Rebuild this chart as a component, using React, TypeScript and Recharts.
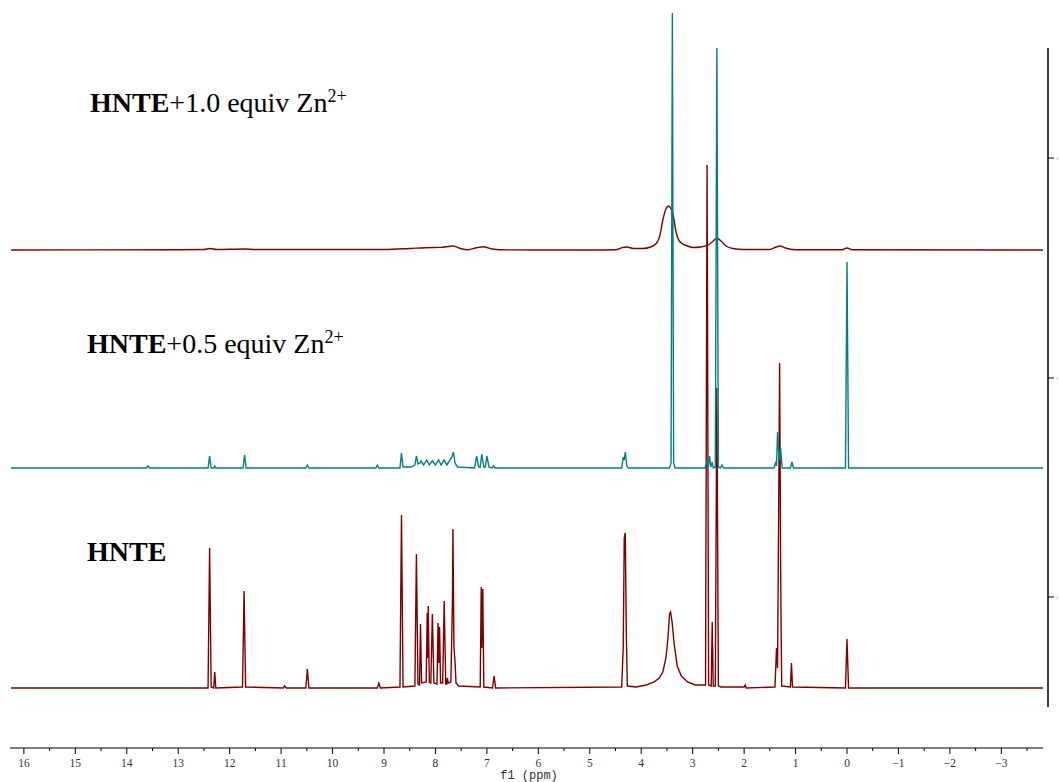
import React from 'react';
import { LineChart, Line, XAxis, YAxis, ReferenceLine } from 'recharts';

type Pt = [number, number];

// f1 axis (ppm), minor ticks every 0.5
const ppmTicks = [
  16, 15.5, 15, 14.5, 14, 13.5, 13, 12.5, 12, 11.5, 11, 10.5, 10, 9.5, 9, 8.5, 8, 7.5, 7, 6.5,
  6, 5.5, 5, 4.5, 4, 3.5, 3, 2.5, 2, 1.5, 1, 0.5, 0, -0.5, -1, -1.5, -2, -2.5, -3, -3.5,
];
const ppmDomain: [number, number] = [-3.907, 16.27];

// intensity axis (almost hidden at the right edge)
const yTicks = [151, 370, 590];
const yTickLabels = ['1', '2', '3'];

// stacked baselines
const hnteBase = 60;
const halfBase = 280;
const fullBase = 498;

// HNTE (bottom) : [ppm, intensity]
const hnte: Pt[] = [
  [16.25, 0], [12.42, 0], [12.39, 140], [12.36, 1], [12.31, 0], [12.29, 16], [12.27, 0],
  [11.75, 1], [11.72, 97], [11.69, 1], [10.96, 0], [10.93, 2], [10.9, 0],
  [10.52, 0], [10.49, 19], [10.46, 0], [9.13, 0], [9.1, 5], [9.07, 0],
  [8.69, 1], [8.66, 173], [8.63, 1], [8.4, 2], [8.37, 134], [8.34, 4],
  [8.31, 3], [8.29, 64], [8.27, 5], [8.18, 6], [8.16, 75], [8.15, 30], [8.14, 82], [8.12, 6],
  [8.09, 5], [8.06, 74], [8.03, 5], [7.97, 4], [7.95, 65], [7.935, 25], [7.92, 61], [7.9, 5],
  [7.86, 5], [7.83, 87], [7.8, 4], [7.78, 4], [7.77, 10], [7.75, 5],
  [7.7, 6], [7.67, 85], [7.66, 159], [7.64, 40], [7.62, 27], [7.6, 5], [7.55, 2],
  [7.13, 1], [7.11, 101], [7.1, 40], [7.08, 99], [7.06, 1], [6.89, 0], [6.86, 12], [6.83, 0],
  [4.38, 1], [4.35, 40], [4.33, 150], [4.31, 155], [4.29, 55], [4.27, 2],
  [4.1, 1], [3.9, 3], [3.75, 6], [3.65, 10], [3.58, 16], [3.52, 30], [3.48, 50], [3.45, 74],
  [3.43, 76], [3.4, 66], [3.36, 44], [3.3, 22], [3.22, 12], [3.1, 6], [2.95, 3], [2.86, 3],
  [2.75, 3], [2.72, 523], [2.69, 3], [2.64, 2], [2.62, 66], [2.6, 2],
  [2.56, 2], [2.53, 300], [2.5, 2], [2.45, 1], [2.0, 1], [1.98, 3], [1.96, 0],
  [1.4, 1], [1.37, 40], [1.35, 20], [1.33, 166], [1.31, 325], [1.29, 120], [1.27, 2],
  [1.1, 1], [1.08, 25], [1.06, 1], [0.03, 0], [0, 49], [-0.03, 0], [-3.81, 0],
];

// HNTE + 0.5 equiv Zn2+ (middle)
const half: Pt[] = [
  [16.25, 0], [13.62, 0], [13.59, 2], [13.56, 0],
  [12.42, 0], [12.39, 12], [12.36, 0], [12.31, 0], [12.29, 2], [12.27, 0],
  [11.74, 0], [11.71, 13], [11.68, 0], [10.52, 0], [10.49, 3], [10.46, 0],
  [9.16, 0], [9.13, 3], [9.1, 0], [8.69, 0], [8.66, 15], [8.63, 1],
  [8.47, 1], [8.4, 3], [8.37, 12], [8.34, 4], [8.3, 5], [8.28, 7], [8.23, 3],
  [8.17, 8], [8.12, 3], [8.06, 7], [8.0, 3], [7.94, 8], [7.89, 3], [7.83, 8], [7.78, 3],
  [7.68, 11], [7.65, 16], [7.62, 5], [7.57, 1],
  [7.24, 0], [7.2, 12], [7.16, 1], [7.13, 1], [7.1, 14], [7.06, 1], [7.03, 1], [7.0, 12], [6.96, 1],
  [6.9, 0], [6.87, 2], [6.84, 0],
  [4.38, 0], [4.35, 11], [4.33, 8], [4.31, 16], [4.28, 2], [4.25, 0],
  [3.45, 0], [3.42, 5], [3.395, 455], [3.37, 5], [3.34, 0],
  [2.76, 0], [2.72, 6], [2.7, 1], [2.67, 12], [2.65, 1], [2.62, 6], [2.6, 0],
  [2.56, 1], [2.53, 420], [2.5, 1], [2.46, 0], [2.43, 3], [2.4, 0],
  [1.42, 0], [1.39, 5], [1.37, 2], [1.35, 36], [1.32, 8], [1.29, 20], [1.26, 0],
  [1.1, 0], [1.07, 6], [1.04, 0], [0.03, 0], [0, 206], [-0.03, 0], [-3.81, 0],
];

// HNTE + 1.0 equiv Zn2+ (top, broadened)
const full: Pt[] = [
  [16.25, 0], [13.0, 0.3], [12.5, 0.5], [12.38, 1.5], [12.25, 0.5], [11.72, 1], [11.5, 0.5],
  [10.0, 0.5], [9.0, 0.5], [8.5, 1.5], [8.2, 2.3], [7.9, 2.6], [7.66, 4], [7.5, 1.2],
  [7.37, 0.3], [7.2, 2.3], [7.08, 3.3], [6.9, 1], [6.75, 0.2], [5.0, 0], [4.5, 0.3],
  [4.36, 2.5], [4.28, 3], [4.15, 1.5], [3.97, 1.5], [3.82, 3], [3.7, 7], [3.64, 14],
  [3.58, 30], [3.52, 41], [3.47, 44], [3.42, 41], [3.38, 35], [3.33, 20], [3.29, 12],
  [3.22, 7], [3.1, 4], [2.99, 2.5], [2.85, 3], [2.7, 5], [2.6, 9], [2.53, 12], [2.45, 9],
  [2.35, 4], [2.22, 1.5], [2.0, 0.5], [1.5, 0.5], [1.38, 3], [1.3, 4], [1.2, 2], [1.0, 0.3],
  [0.1, 0.3], [0, 2], [-0.1, 0.3], [-3.81, 0],
];

const toRows = (pts: Pt[], base: number) => pts.map(([x, h]) => ({ x, y: base + h }));

const PpmTick = (props: any) => {
  const { x, y, payload } = props;
  const v = payload.value as number;
  const major = Number.isInteger(v);
  const label = v < 0 ? `\u2212${Math.abs(v)}` : `${v}`;
  return (
    <g>
      <line x1={x} x2={x} y1={y} y2={y + (major ? 6 : 3)} stroke="#000" strokeWidth={1} />
      {major && (
        <text x={x} y={y + 19} textAnchor="middle" fontSize={11.5} fill="#333"
          fontFamily="'Liberation Serif', serif">{label}</text>
      )}
    </g>
  );
};

const labelFont = "'Liberation Serif', 'Times New Roman', serif";

export default function App() {
  return (
    <div style={{ position: 'absolute', left: 0, top: 0, width: 1059, height: 782, background: '#fff' }}>
      <LineChart width={1059} height={782} margin={{ top: 5, right: 0, bottom: 0, left: 10 }}>
        <XAxis
          dataKey="x"
          type="number"
          domain={ppmDomain}
          reversed
          allowDataOverflow
          ticks={ppmTicks}
          interval={0}
          height={34}
          axisLine={false}
          tickLine={false}
          tickSize={0}
          tickMargin={0}
          tick={<PpmTick />}
        />
        <YAxis
          orientation="right"
          type="number"
          domain={[0, 743]}
          allowDataOverflow
          width={11}
          ticks={yTicks}
          interval={0}
          axisLine={false}
          tickLine={{ stroke: '#000' }}
          tickSize={6}
          tickMargin={2}
          tickFormatter={(_v: number, i: number) => yTickLabels[i]}
          tick={{ fontSize: 5, fill: '#999', textAnchor: 'start' }}
        />
        <ReferenceLine segment={[{ x: 16.27, y: 0 }, { x: -3.81, y: 0 }]} stroke="#000" strokeWidth={1.2} ifOverflow="visible" />
        <ReferenceLine segment={[{ x: -3.907, y: 41 }, { x: -3.907, y: 700 }]} stroke="#000" strokeWidth={1.5} ifOverflow="visible" />
        <Line data={toRows(hnte, hnteBase)} dataKey="y" type="linear" stroke="#800000" strokeWidth={1.4} dot={false} isAnimationActive={false} />
        <Line data={toRows(full, fullBase)} dataKey="y" type="monotone" stroke="#800000" strokeWidth={1.4} dot={false} isAnimationActive={false} />
        <Line data={toRows(half, halfBase)} dataKey="y" type="linear" stroke="#008080" strokeWidth={1.4} dot={false} isAnimationActive={false} />
      </LineChart>
      <svg width={1059} height={782} style={{ position: 'absolute', left: 0, top: 0, pointerEvents: 'none' }}>
        <text x={90} y={112} fontFamily={labelFont} fontSize={28} fill="#000">
          <tspan fontWeight="bold">HNTE</tspan>
          <tspan>+1.0 equiv Zn</tspan>
          <tspan dy={-10} fontSize={18}>2+</tspan>
        </text>
        <text x={87} y={353} fontFamily={labelFont} fontSize={28} fill="#000">
          <tspan fontWeight="bold">HNTE</tspan>
          <tspan>+0.5 equiv Zn</tspan>
          <tspan dy={-10} fontSize={18}>2+</tspan>
        </text>
        <text x={87} y={561} fontFamily={labelFont} fontSize={28} fontWeight="bold" fill="#000">HNTE</text>
        <text x={529} y={779} textAnchor="middle" fontFamily="'Liberation Mono', monospace" fontSize={12} fill="#333">f1 (ppm)</text>
      </svg>
    </div>
  );
}
